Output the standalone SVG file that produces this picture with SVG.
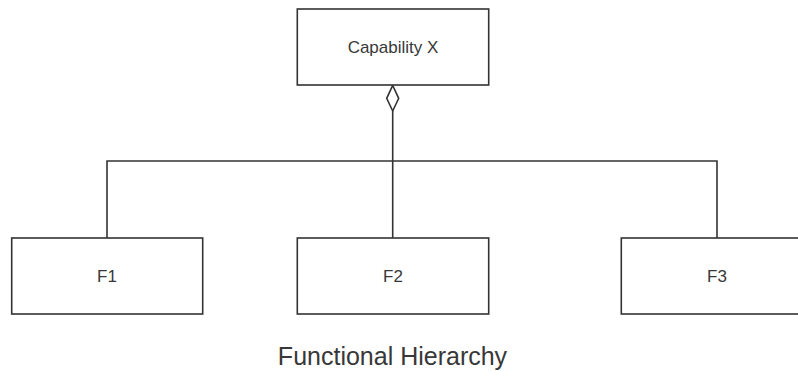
<svg xmlns="http://www.w3.org/2000/svg" width="798" height="371" viewBox="0 0 798 371">
<style>
.box{fill:#ffffff;stroke:#333333;stroke-width:1.6}
.lbl{font-family:"Liberation Sans",Arial,sans-serif;font-size:17px;fill:#383838;text-anchor:middle}
.conn{fill:none;stroke:#333333;stroke-width:1.6}
.title{font-family:"Liberation Sans",Arial,sans-serif;font-size:25px;fill:#383838;text-anchor:middle}
</style>
<rect width="798" height="371" fill="#ffffff"/>
<g id="connectors">
<path class="conn" d="M392.7,111 V238"/>
<path class="conn" d="M107,238 V161 H717 V238"/>
<path class="conn" d="M392.7,85.5 L398.7,98.3 L392.7,111 L386.7,98.3 Z" style="fill:#ffffff"/>
</g>
<g id="capability">
<rect class="box" x="297.3" y="9" width="191.4" height="76"/>
<text class="lbl" x="393" y="52.5">Capability X</text>
</g>
<g id="f1">
<rect class="box" x="11.7" y="238" width="191" height="76"/>
<text class="lbl" x="107" y="281.8">F1</text>
</g>
<g id="f2">
<rect class="box" x="297.3" y="238" width="191.4" height="76"/>
<text class="lbl" x="393" y="281.8">F2</text>
</g>
<g id="f3">
<rect class="box" x="621.3" y="238" width="191.4" height="76"/>
<text class="lbl" x="717" y="281.8">F3</text>
</g>
<text class="title" x="392.5" y="365">Functional Hierarchy</text>
</svg>
